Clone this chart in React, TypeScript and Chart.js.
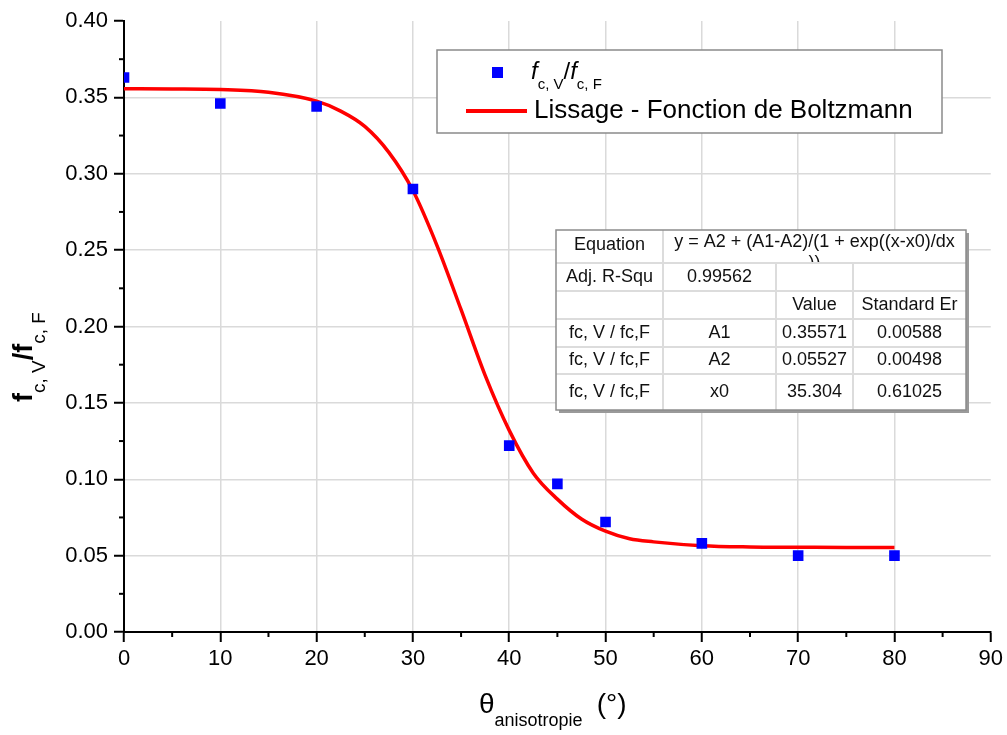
import React, { useEffect, useRef } from "react";
import { Chart, registerables } from "chart.js";

Chart.register(...registerables);

// ---- Data ----
const thetaDeg = [0, 10, 20, 30, 40, 45, 50, 60, 70, 80];
const ratioValues = [0.363, 0.346, 0.344, 0.29, 0.122, 0.097, 0.072, 0.058, 0.05, 0.05];

const fitTheta = [0, 5, 10, 15, 20, 22.5, 25, 27.5, 30, 32.5, 35, 37.5, 40, 42.5, 45, 47.5, 50, 52.5, 55, 60, 65, 70, 75, 80];
const fitValues = [0.3556, 0.3555, 0.3551, 0.3533, 0.3475, 0.341, 0.331, 0.314, 0.289, 0.253, 0.211, 0.168, 0.132, 0.104, 0.087, 0.074, 0.066, 0.061, 0.059, 0.0565, 0.0557, 0.0555, 0.0553, 0.0553];

const legendFitLabel = "Lissage - Fonction de Boltzmann";

const tableEquation = "y = A2 + (A1-A2)/(1 + exp((x-x0)/dx";
const tableEquationTail = "))";
const tableAdjR2 = "0.99562";
const tableRowLabel = "fc, V / fc,F";
const tableParams = ["A1", "A2", "x0"];
const tableValues = ["0.35571", "0.05527", "35.304"];
const tableErrors = ["0.00588", "0.00498", "0.61025"];

const FONT = "'Liberation Sans', Arial, sans-serif";

type Seg = { t: string; font: string; dy?: number };
function drawRich(ctx: CanvasRenderingContext2D, x: number, y: number, segs: Seg[]) {
  let cx = x;
  for (const s of segs) {
    ctx.font = s.font;
    ctx.fillText(s.t, cx, y + (s.dy || 0));
    cx += ctx.measureText(s.t).width;
  }
  return cx;
}

const overlayPlugin = {
  id: "overlay",
  afterDraw(chart: any) {
    const ctx: CanvasRenderingContext2D = chart.ctx;
    const xs = chart.scales.x;
    const ys = chart.scales.y;
    const area = chart.chartArea;
    ctx.save();

    // minor ticks
    ctx.strokeStyle = "#000";
    ctx.lineWidth = 2;
    const xt = xs.ticks.map((t: any) => t.value);
    for (let i = 0; i < xt.length - 1; i++) {
      const px = xs.getPixelForValue((xt[i] + xt[i + 1]) / 2);
      ctx.beginPath();
      ctx.moveTo(px, area.bottom);
      ctx.lineTo(px, area.bottom + 5);
      ctx.stroke();
    }
    const yt = ys.ticks.map((t: any) => t.value);
    for (let i = 0; i < yt.length - 1; i++) {
      const py = ys.getPixelForValue((yt[i] + yt[i + 1]) / 2);
      ctx.beginPath();
      ctx.moveTo(area.left, py);
      ctx.lineTo(area.left - 5, py);
      ctx.stroke();
    }

    // axis titles
    ctx.fillStyle = "#000";
    ctx.textBaseline = "alphabetic";
    ctx.textAlign = "left";
    // x title
    const cx = drawRich(ctx, 479, 713, [
      { t: "θ", font: `28px ${FONT}` },
      { t: "anisotropie", font: `18px ${FONT}`, dy: 13 },
    ]);
    ctx.font = `28px ${FONT}`;
    ctx.fillText("(°)", cx + 14, 713);

    // y title (rotated)
    ctx.save();
    ctx.translate(32, 402);
    ctx.rotate(-Math.PI / 2);
    drawRich(ctx, 0, 0, [
      { t: "f", font: `bold 27px ${FONT}` },
      { t: "c, V", font: `19px ${FONT}`, dy: 13 },
      { t: "/f", font: `bold 27px ${FONT}` },
      { t: "c, F", font: `19px ${FONT}`, dy: 13 },
    ]);
    ctx.restore();

    // legend box
    ctx.fillStyle = "#fff";
    ctx.fillRect(437, 50, 505, 83);
    ctx.strokeStyle = "#8a8a8a";
    ctx.lineWidth = 1.5;
    ctx.strokeRect(437, 50, 505, 83);
    ctx.fillStyle = "#0000ff";
    ctx.fillRect(492, 67, 11, 11);
    ctx.fillStyle = "#000";
    drawRich(ctx, 531, 79, [
      { t: "f", font: `italic 24px ${FONT}` },
      { t: "c, V", font: `15px ${FONT}`, dy: 10 },
      { t: "/", font: `24px ${FONT}` },
      { t: "f", font: `italic 24px ${FONT}` },
      { t: "c, F", font: `15px ${FONT}`, dy: 10 },
    ]);
    ctx.strokeStyle = "#ff0000";
    ctx.lineWidth = 4;
    ctx.beginPath();
    ctx.moveTo(466, 111);
    ctx.lineTo(527, 111);
    ctx.stroke();
    ctx.fillStyle = "#000";
    ctx.font = `26px ${FONT}`;
    ctx.fillText(legendFitLabel, 534, 118);

    // table
    const cols = [556, 663, 776, 853, 966];
    const rows = [230, 263, 291, 319, 347, 374, 410];
    const tl = cols[0], tt = rows[0], tw = cols[4] - cols[0], th = rows[6] - rows[0];
    ctx.fillStyle = "#9a9a9a";
    ctx.fillRect(tl + 3, tt + 3, tw, th);
    ctx.fillStyle = "#fff";
    ctx.fillRect(tl, tt, tw, th);
    ctx.strokeStyle = "#dcdcdc";
    ctx.lineWidth = 2;
    for (let r = 1; r < 6; r++) {
      ctx.beginPath();
      ctx.moveTo(tl, rows[r]);
      ctx.lineTo(tl + tw, rows[r]);
      ctx.stroke();
    }
    ctx.beginPath();
    ctx.moveTo(cols[1], rows[0]);
    ctx.lineTo(cols[1], rows[6]);
    ctx.stroke();
    for (const c of [cols[2], cols[3]]) {
      ctx.beginPath();
      ctx.moveTo(c, rows[1]);
      ctx.lineTo(c, rows[6]);
      ctx.stroke();
    }
    ctx.strokeStyle = "#8c8c8c";
    ctx.lineWidth = 1.5;
    ctx.strokeRect(tl, tt, tw, th);

    ctx.fillStyle = "#111";
    ctx.font = `18px ${FONT}`;
    ctx.textAlign = "center";
    ctx.textBaseline = "middle";
    const mid = (a: number, b: number) => (a + b) / 2;
    ctx.fillText("Equation", mid(cols[0], cols[1]), mid(rows[0], rows[1]) - 1);
    ctx.save();
    ctx.beginPath();
    ctx.rect(cols[1], rows[0], cols[4] - cols[1], rows[1] - rows[0] - 1);
    ctx.clip();
    ctx.fillText(tableEquation, mid(cols[1], cols[4]), mid(rows[0], rows[1]) - 4);
    ctx.fillText(tableEquationTail, mid(cols[1], cols[4]), mid(rows[0], rows[1]) + 17);
    ctx.restore();
    ctx.fillText("Adj. R-Squ", mid(cols[0], cols[1]), mid(rows[1], rows[2]));
    ctx.fillText(tableAdjR2, mid(cols[1], cols[2]), mid(rows[1], rows[2]));
    ctx.fillText("Value", mid(cols[2], cols[3]), mid(rows[2], rows[3]));
    ctx.fillText("Standard Er", mid(cols[3], cols[4]), mid(rows[2], rows[3]));
    for (let i = 0; i < tableParams.length; i++) {
      const y = mid(rows[3 + i], rows[4 + i]);
      ctx.fillText(tableRowLabel, mid(cols[0], cols[1]), y);
      ctx.fillText(tableParams[i], mid(cols[1], cols[2]), y);
      ctx.fillText(tableValues[i], mid(cols[2], cols[3]), y);
      ctx.fillText(tableErrors[i], mid(cols[3], cols[4]), y);
    }
    ctx.restore();
  },
};

export default function App() {
  const ref = useRef<HTMLCanvasElement | null>(null);
  useEffect(() => {
    document.body.style.margin = "0";
    const canvas = ref.current!;
    const chart = new Chart(canvas, {
      type: "scatter",
      data: {
        datasets: [
          {
            label: "fc,V/fc,F",
            data: thetaDeg.map((x, i) => ({ x, y: ratioValues[i] })),
            pointStyle: "rect",
            pointRadius: 7.5,
            pointBorderWidth: 0,
            backgroundColor: "#0000ff",
            borderColor: "#0000ff",
            showLine: false,
            order: 0,
          },
          {
            label: legendFitLabel,
            data: fitTheta.map((x, i) => ({ x, y: fitValues[i] })),
            showLine: true,
            pointRadius: 0,
            borderColor: "#ff0000",
            borderWidth: 3.5,
            cubicInterpolationMode: "monotone",
            order: 1,
          },
        ],
      },
      options: {
        animation: false,
        responsive: false,
        devicePixelRatio: 1,
        layout: { padding: { left: 0, right: 15, top: 21, bottom: 0 } },
        plugins: { legend: { display: false }, tooltip: { enabled: false } },
        scales: {
          x: {
            type: "linear",
            min: 0,
            max: 90,
            afterFit: (s: any) => { s.height = 103; },
            ticks: { stepSize: 10, color: "#000", font: { family: FONT, size: 22 }, padding: 4 },
            grid: {
              color: (c: any) => (c.tick && (c.tick.value === 0 || c.tick.value === 90) ? "rgba(0,0,0,0)" : "#dadada"),
              lineWidth: 1.5,
              tickColor: "#000",
              tickLength: 10,
              tickWidth: 2,
            },
            border: { display: true, color: "#000", width: 2 },
          },
          y: {
            type: "linear",
            min: 0,
            max: 0.4,
            afterFit: (s: any) => { s.width = 124; },
            ticks: {
              stepSize: 0.05,
              color: "#000",
              font: { family: FONT, size: 22 },
              padding: 6,
              callback: (v: any) => Number(v).toFixed(2),
            },
            grid: {
              color: (c: any) => (c.tick && (c.tick.value === 0 || Math.abs(c.tick.value - 0.4) < 1e-9) ? "rgba(0,0,0,0)" : "#dadada"),
              lineWidth: 1.5,
              tickColor: "#000",
              tickLength: 10,
              tickWidth: 2,
            },
            border: { display: true, color: "#000", width: 2 },
          },
        },
      },
      plugins: [overlayPlugin],
    });
    return () => chart.destroy();
  }, []);
  return <canvas ref={ref} width={1007} height={735} style={{ display: "block", width: 1007, height: 735 }} />;
}
